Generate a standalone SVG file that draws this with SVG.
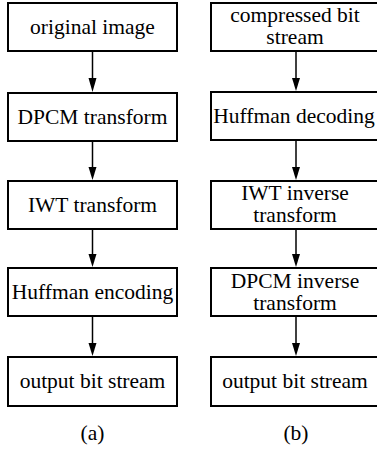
<svg xmlns="http://www.w3.org/2000/svg" width="377" height="454" viewBox="0 0 377 454">
<style>
rect{fill:#fff;stroke:#000;stroke-width:2}
text{font-family:"Liberation Serif","Times New Roman",serif;font-size:21.5px;fill:#000;text-anchor:middle}
.c line{stroke:#000;stroke-width:1.5}
.c path{fill:#000;stroke:none}
</style>
<rect x="0" y="0" width="377" height="454" style="stroke:none"/>
<g id="a1"><rect x="8" y="3" width="169" height="48"/><text x="92.5" y="34">original image</text></g>
<g id="a2"><rect x="8" y="93" width="169" height="48"/><text x="92.5" y="124">DPCM transform</text></g>
<g id="a3"><rect x="8" y="181" width="169" height="48"/><text x="92.5" y="212">IWT transform</text></g>
<g id="a4"><rect x="8" y="268" width="169" height="48"/><text x="92.5" y="299">Huffman encoding</text></g>
<g id="a5"><rect x="8" y="357" width="169" height="49"/><text x="92.5" y="388">output bit stream</text></g>
<g id="b1"><rect x="211" y="3" width="170" height="48"/><text x="295" y="21.5">compressed bit</text><text x="295" y="44">stream</text></g>
<g id="b2"><rect x="211" y="92" width="170" height="48"/><text x="294" y="123">Huffman decoding</text></g>
<g id="b3"><rect x="211" y="181" width="170" height="48"/><text x="295" y="200">IWT inverse</text><text x="295" y="222">transform</text></g>
<g id="b4"><rect x="211" y="268" width="170" height="48"/><text x="295" y="287.5">DPCM inverse</text><text x="295" y="309.5">transform</text></g>
<g id="b5"><rect x="211" y="357" width="170" height="49"/><text x="295" y="388">output bit stream</text></g>
<g id="la"><text x="92.5" y="440">(a)</text></g>
<g id="lb"><text x="296" y="440">(b)</text></g>
<g class="c" id="connectors">
<line x1="92.5" y1="51" x2="92.5" y2="82"/><path d="M88.5 78 L92.5 92 L96.5 78 Z"/>
<line x1="92.5" y1="141" x2="92.5" y2="170"/><path d="M88.5 167 L92.5 180 L96.5 167 Z"/>
<line x1="92.5" y1="229" x2="92.5" y2="258"/><path d="M88.5 254 L92.5 267 L96.5 254 Z"/>
<line x1="92.5" y1="316" x2="92.5" y2="347"/><path d="M88.5 343 L92.5 356 L96.5 343 Z"/>
<line x1="296" y1="51" x2="296" y2="82"/><path d="M292 78 L296 91 L300 78 Z"/>
<line x1="296" y1="140" x2="296" y2="170"/><path d="M292 167 L296 180 L300 167 Z"/>
<line x1="296" y1="229" x2="296" y2="258"/><path d="M292 254 L296 267 L300 254 Z"/>
<line x1="296" y1="316" x2="296" y2="347"/><path d="M292 343 L296 356 L300 343 Z"/>
</g>
</svg>
